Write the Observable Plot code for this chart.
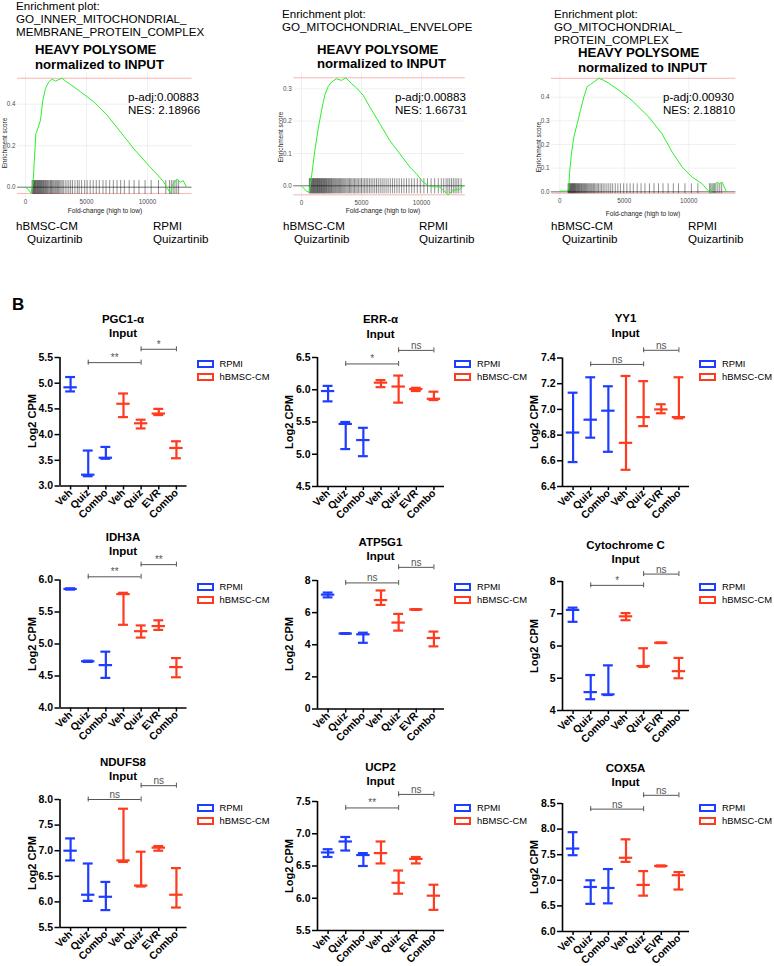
<!DOCTYPE html>
<html><head><meta charset="utf-8">
<script src="https://cdn.jsdelivr.net/npm/d3@7"></script>
<script src="https://cdn.jsdelivr.net/npm/@observablehq/plot@0.6"></script>
<style>
body{margin:0;background:#fff;}
#page{position:relative;width:774px;height:966px;overflow:hidden;font-family:"Liberation Sans",Arial,sans-serif;background:#fff;}
.t{position:absolute;white-space:nowrap;line-height:1;}
#page svg{position:absolute;left:0;top:0;background:transparent;overflow:visible;}
.sw{position:absolute;box-sizing:border-box;width:17px;height:7.5px;border:2.4px solid;}
</style></head><body><div id="page"></div>
<script>
// ================= DATA =================
// --- Panel A: GSEA enrichment plots ---
const gseaSetLines = [
  ["Enrichment plot:", "GO_INNER_MITOCHONDRIAL_", "MEMBRANE_PROTEIN_COMPLEX"],
  ["Enrichment plot:", "GO_MITOCHONDRIAL_ENVELOPE"],
  ["Enrichment plot:", "GO_MITOCHONDRIAL_", "PROTEIN_COMPLEX"]
];
const gseaPadj = ["0.00883", "0.00883", "0.00930"];
const gseaNES = ["2.18966", "1.66731", "2.18810"];
const gseaXTicks = [0, 5000, 10000];
const gseaYTicks = [[0, 0.2, 0.4], [0, 0.1, 0.2, 0.3], [0, 0.1, 0.2, 0.3, 0.4]];

const gseaRank1 = [0,270,465,630,740,850,1010,1230,1420,1640,1910,2190,2460,2730,3005,3280,3690,4510,5600,6690,7790,8880,9970,10790,11340,11890,12100,12430,12700,12920,13200];
const gseaES1 = [0,-0.013,-0.029,0.032,0.145,0.258,0.282,0.323,0.419,0.476,0.508,0.521,0.511,0.519,0.525,0.511,0.495,0.46,0.411,0.347,0.266,0.185,0.113,0.061,0.024,-0.03,0.016,0.04,0.024,0.032,0.0];
const gseaHits1 = [540,600,650,700,740,790,830,880,930,980,1030,1080,1120,1170,1220,1270,1320,1380,1430,1480,1540,1600,1650,1720,1790,1850,1920,2000,2060,2130,2200,2280,2360,2450,2530,2620,2700,2800,2900,3000,3100,3250,3400,3550,3700,3850,4050,4250,4400,4600,4850,5050,5300,5550,5800,6050,6350,6600,6900,7200,7500,7800,8100,8500,8900,9300,9800,10300,10900,11500,11800,11950,12100,12250,12400,12550];

const gseaRank2 = [0,415,640,830,1110,1390,1670,1940,2220,2500,2920,3330,3690,4170,4580,5140,5690,6530,7360,8190,9030,9580,10140,10690,11530,12220,12640,13190,13530];
const gseaES2 = [0,-0.017,-0.02,0.027,0.109,0.176,0.233,0.28,0.307,0.321,0.331,0.326,0.334,0.316,0.303,0.28,0.244,0.192,0.14,0.099,0.058,0.037,0.011,-0.002,-0.004,-0.028,-0.014,-0.01,0.001];
const gseaHits2 = [650,700,760,810,860,900,950,1000,1050,1100,1140,1190,1240,1290,1330,1380,1430,1480,1520,1570,1620,1670,1720,1770,1820,1870,1920,1980,2030,2080,2140,2200,2260,2320,2380,2440,2500,2570,2640,2710,2780,2850,2930,3010,3090,3170,3250,3340,3430,3520,3610,3700,3800,3900,4000,4100,4200,4310,4420,4530,4640,4760,4880,5000,5130,5260,5390,5520,5660,5800,5950,6100,6250,6400,6560,6720,6880,7050,7220,7400,7580,7760,7950,8140,8340,8540,8750,8960,9180,9400,9650,9900,10200,10500,10800,11100,11400,11650,11850,12050,12200,12350,12500,12650,12800,12950,13100,13300];

const gseaRank3 = [0,570,700,750,900,1085,1345,1600,1860,2120,2380,2635,3020,3410,3800,4575,5600,6900,7930,8710,9480,10260,11030,11680,11940,12200,12380,12580,12890];
const gseaES3 = [0.003,0.003,0.013,0.076,0.16,0.23,0.287,0.344,0.40,0.445,0.454,0.464,0.48,0.471,0.459,0.429,0.386,0.316,0.245,0.168,0.105,0.062,0.034,-0.006,0.027,0.041,0.034,0.041,0.003];
const gseaHits3 = [640,690,730,770,810,850,890,930,970,1010,1050,1090,1130,1170,1210,1260,1310,1360,1410,1460,1510,1560,1620,1680,1740,1800,1860,1920,1990,2060,2130,2200,2280,2360,2440,2520,2610,2700,2800,2900,3000,3120,3240,3360,3500,3650,3800,3950,4100,4300,4500,4700,4950,5200,5450,5700,6000,6300,6600,6950,7300,7650,8000,8400,8800,9200,9700,10200,10700,11600,11700,11800,11900,12000,12100,12250,12400,12550];

// --- Panel B: Log2 CPM, median with range ---
const categories = ["Veh", "Quiz", "Combo", "Veh", "Quiz", "EVR", "Combo"];
const condition = ["RPMI", "RPMI", "RPMI", "hBMSC-CM", "hBMSC-CM", "hBMSC-CM", "hBMSC-CM"];
const geneNames = ["PGC1-\u03b1", "ERR-\u03b1", "YY1", "IDH3A", "ATP5G1", "Cytochrome C", "NDUFS8", "UCP2", "COX5A"];

const PGC1A  = {max: [5.12,3.69,3.76,4.80,4.29,4.50,3.87], median: [4.92,3.22,3.55,4.60,4.22,4.41,3.74], min: [4.84,3.19,3.53,4.34,4.12,4.38,3.54]};
const ERRA   = {max: [6.06,5.50,5.41,6.15,6.22,6.03,5.97], median: [5.98,5.47,5.22,6.11,6.05,6.01,5.86], min: [5.82,5.08,4.97,6.04,5.80,5.98,5.84]};
const YY1    = {max: [7.13,7.25,7.18,7.26,7.22,7.04,7.25], median: [6.82,6.92,6.99,6.74,6.94,7.00,6.94], min: [6.59,6.78,6.67,6.53,6.87,6.97,6.93]};
const IDH3A  = {max: [5.87,4.74,4.88,5.80,5.29,5.37,4.78], median: [5.86,4.73,4.67,5.78,5.20,5.28,4.64], min: [5.85,4.72,4.47,5.30,5.10,5.22,4.48]};
const ATP5G1 = {max: [7.25,4.72,4.75,7.38,5.92,6.22,4.82], median: [7.12,4.70,4.65,6.78,5.38,6.20,4.42], min: [6.95,4.68,4.12,6.48,4.88,6.17,3.90]};
const CYCS   = {max: [7.19,5.10,5.40,7.02,5.93,6.11,5.63], median: [7.12,4.57,4.50,6.92,5.38,6.10,5.22], min: [6.75,4.35,4.48,6.80,5.35,6.09,5.00]};
const NDUFS8 = {max: [7.24,6.75,6.39,7.82,6.98,7.09,6.66], median: [7.00,6.14,6.10,6.81,6.32,7.06,6.14], min: [6.81,6.02,5.84,6.78,6.30,7.00,5.89]};
const UCP2   = {max: [6.76,6.95,6.70,6.88,6.43,6.64,6.21], median: [6.71,6.88,6.67,6.70,6.24,6.61,6.04], min: [6.64,6.74,6.50,6.54,6.07,6.54,5.82]};
const COX5A  = {max: [7.94,7.00,7.22,7.80,7.18,7.29,7.16], median: [7.62,6.87,6.85,7.44,6.91,7.28,7.10], min: [7.49,6.54,6.55,7.36,6.70,7.27,6.82]};
const geneValues = [PGC1A, ERRA, YY1, IDH3A, ATP5G1, CYCS, NDUFS8, UCP2, COX5A];

const yDomains = [[3,5.5],[4.5,6.5],[6.4,7.4],[4,6],[0,8],[4,8],[5.5,8],[5.5,7.5],[6,8.5]];
const yTickSteps = [0.5,0.5,0.2,0.5,2,1,0.5,0.5,0.5];
const sigPairs = [[1,4],[4,6]];
const sigLevels = [[5.40,5.66],[6.40,6.61],[7.35,7.46],[6.05,6.24],[7.85,8.82],[7.88,8.23],[8.0,8.27],[7.40,7.61],[8.39,8.66]];
const sigLabels = [["**","*"],["*","ns"],["ns","ns"],["**","**"],["ns","ns"],["*","ns"],["ns","ns"],["**","ns"],["ns","ns"]];

// ================= LAYOUT / STYLE =================
const W = 774, H = 966;
const BLUE = "#1f3dff", RED = "#ff3b1f";
const FONT = "'Liberation Sans', Arial, sans-serif";
const page = document.getElementById("page");

function label(s, x, y, o = {}) {
  const d = document.createElement("div");
  d.className = "t";
  d.textContent = s;
  d.style.left = x + "px"; d.style.top = y + "px";
  d.style.fontSize = (o.size || 11.5) + "px";
  if (o.bold) d.style.fontWeight = "bold";
  if (o.color) d.style.color = o.color;
  const tx = o.anchor === "middle" ? "-50%" : o.anchor === "end" ? "-100%" : "0";
  d.style.transform = `translate(${tx},-50%)` + (o.rotate ? ` rotate(${o.rotate}deg)` : "");
  page.appendChild(d);
}
function add(svg) { page.appendChild(svg); }

// ---- Panel A layout ----
const gseaX0 = [25, 301, 559.3];           // px of rank 0
const gseaKx = [0.0122, 0.012, 0.0129];     // px per rank
const gseaY0 = [186.7, 185.3, 191.3];       // px of ES 0
const gseaKy = [207.5, 323.3, 236.5];       // px per ES unit
const gseaYDom = [[-0.058, 0.553], [-0.046, 0.352], [-0.030, 0.504]];
const gseaBar = [[-0.035, 0.032], [-0.025, 0.022], [-0.008, 0.034]];
const gseaRanks = [gseaRank1, gseaRank2, gseaRank3];
const gseaESs = [gseaES1, gseaES2, gseaES3];
const gseaHits = [gseaHits1, gseaHits2, gseaHits3];
const xDomG = [-650, 13650];

for (let p = 0; p < 3; p++) {
  const fl = gseaX0[p] + xDomG[0] * gseaKx[p], fr = gseaX0[p] + xDomG[1] * gseaKx[p];
  const ft = gseaY0[p] - gseaYDom[p][1] * gseaKy[p], fb = gseaY0[p] - gseaYDom[p][0] * gseaKy[p];
  const curve = gseaRanks[p].map((r, i) => ({r, es: gseaESs[p][i]}));
  const [emin, emax] = d3.extent(gseaESs[p]);
  const [b0, b1] = gseaBar[p];
  add(Plot.plot({
    width: W, height: H,
    marginLeft: fl, marginRight: W - fr, marginTop: ft, marginBottom: H - fb,
    x: {domain: xDomG}, y: {domain: gseaYDom[p]},
    style: {background: "transparent", overflow: "visible", fontFamily: FONT},
    marks: [
      Plot.gridY(gseaYTicks[p], {stroke: "#e6e6e6", strokeOpacity: 1, strokeWidth: 0.6}),
      Plot.gridX(gseaXTicks, {stroke: "#e6e6e6", strokeOpacity: 1, strokeWidth: 0.6}),
      Plot.ruleY([emax, emin], {stroke: "#f5a0a0", strokeWidth: 0.8}),
      Plot.ruleY([0], {stroke: "#222", strokeWidth: 0.6}),
      Plot.ruleX(gseaHits[p], {x: d => d, y1: () => b0, y2: () => b1, stroke: "#000", strokeOpacity: 0.55, strokeWidth: 0.8}),
      Plot.line(curve, {x: "r", y: "es", stroke: "#2bf02b", strokeWidth: 1}),
      Plot.axisY(gseaYTicks[p], {tickSize: 0, tickPadding: 2, tickFormat: d3.format(".1f"), fontSize: 6.3, fill: "#4d4d4d", label: null}),
      Plot.axisX(gseaXTicks, {tickSize: 0, tickPadding: 0, tickFormat: d => String(d), fontSize: 6.3, fill: "#4d4d4d", label: null})
    ]
  }));
}

// Panel A texts
const gSetX = [16, 282, 554], gSetY = [[6, 18.5, 31.5], [13.5, 26.8], [14.3, 27, 39.7]];
const gTitleX = [35, 317, 578], gTitleY = [[50, 65], [50, 64], [53, 68]];
const gStatX = [128, 395, 663], gStatY = [[97, 110], [97, 109.5], [97, 109.5]];
const gYlab = [[4.5, 143], [280.5, 137], [538.5, 147]];
const gXlab = [[105, 210.5], [383, 211], [643, 213.5]];
const gLeft = [[16, 27], [283, 294], [551, 562]], gRight = [153, 419, 688];
for (let p = 0; p < 3; p++) {
  gseaSetLines[p].forEach((s, j) => label(s, gSetX[p], gSetY[p][j], {size: 11.6}));
  label("HEAVY POLYSOME", gTitleX[p], gTitleY[p][0], {size: 13.2, bold: true});
  label("normalized to INPUT", gTitleX[p], gTitleY[p][1], {size: 13.2, bold: true});
  label("p-adj:" + gseaPadj[p], gStatX[p], gStatY[p][0], {size: 11.6});
  label("NES: " + gseaNES[p], gStatX[p], gStatY[p][1], {size: 11.6});
  label("Enrichment score", gYlab[p][0], gYlab[p][1], {size: 6.5, anchor: "middle", rotate: -90, color: "#222"});
  label("Fold-change (high to low)", gXlab[p][0], gXlab[p][1], {size: 6.6, anchor: "middle", color: "#222"});
  label("hBMSC-CM", gLeft[p][0], 226, {size: 11.6});
  label("Quizartinib", gLeft[p][1], 238.5, {size: 11.6});
  label("RPMI", gRight[p], 226, {size: 11.6});
  label("Quizartinib", gRight[p], 238.5, {size: 11.6});
}

label("B", 12, 304, {size: 17, bold: true});

// ---- Panel B layout ----
const colAxisX = [59.5, 317, 562];
const frameW = 127;
const frameTB = [[357,485.5],[357,486],[357.5,486],[579.5,707.5],[580,708.5],[581,710],[799,927],[801,930],[803,931]];
const titleY = [[319.5,333.5],[320,335],[319,334],[538,552],[543,557],[546,560],[763,777],[768,782],[769,783]];
const legendY = [[364,377],[587,600],[808,821]];
const xDomB = [-0.6, 6.6];

for (let k = 0; k < 9; k++) {
  const v = geneValues[k];
  const rows = categories.map((c, i) => ({i, cond: condition[i], max: v.max[i], med: v.median[i], min: v.min[i]}));
  const ax = colAxisX[k % 3];
  const [top, bottom] = frameTB[k];
  const [y0, y1] = yDomains[k];
  const step = yTickSteps[k];
  const ticks = d3.range(0, Math.round((y1 - y0) / step) + 1).map(j => +(y0 + j * step).toFixed(2));
  const fmt = step < 1 ? d3.format(".1f") : d3.format("d");
  const pxU = (y1 - y0) / (bottom - top);
  const br = sigPairs.map(([a, b], j) => ({a, b, level: sigLevels[k][j], label: sigLabels[k][j]}));
  add(Plot.plot({
    width: W, height: H,
    marginLeft: ax, marginRight: W - (ax + frameW), marginTop: top, marginBottom: H - bottom,
    x: {domain: xDomB}, y: {domain: [y0, y1]},
    color: {domain: ["RPMI", "hBMSC-CM"], range: [BLUE, RED]},
    style: {background: "transparent", overflow: "visible", fontFamily: FONT},
    marks: [
      Plot.ruleX([xDomB[0]], {stroke: "#000", strokeWidth: 1.6}),
      Plot.ruleY([y0], {stroke: "#000", strokeWidth: 1.6}),
      Plot.axisY(ticks, {tickSize: 5, tickPadding: 2, tickFormat: fmt, fontSize: 10.5, fontWeight: "bold", fill: "#000", strokeWidth: 1.5, label: null}),
      Plot.axisX(d3.range(categories.length), {tickSize: 4, tickPadding: 1, tickRotate: -45, tickFormat: i => categories[i], fontSize: 10.5, fontWeight: "bold", fill: "#000", strokeWidth: 1.5, label: null}),
      Plot.ruleX(rows, {x: "i", y1: "min", y2: "max", stroke: "cond", strokeWidth: 2.2}),
      Plot.ruleY(rows, {y: "max", x1: d => d.i - 0.28, x2: d => d.i + 0.28, stroke: "cond", strokeWidth: 2.2}),
      Plot.ruleY(rows, {y: "min", x1: d => d.i - 0.28, x2: d => d.i + 0.28, stroke: "cond", strokeWidth: 2.2}),
      Plot.ruleY(rows, {y: "med", x1: d => d.i - 0.38, x2: d => d.i + 0.38, stroke: "cond", strokeWidth: 2.2}),
      Plot.ruleY(br, {y: "level", x1: "a", x2: "b", stroke: "#555", strokeWidth: 1}),
      Plot.ruleX(br, {x: "a", y1: d => d.level - 2.5 * pxU, y2: d => d.level + 2.5 * pxU, stroke: "#555", strokeWidth: 1}),
      Plot.ruleX(br, {x: "b", y1: d => d.level - 2.5 * pxU, y2: d => d.level + 2.5 * pxU, stroke: "#555", strokeWidth: 1}),
      Plot.text(br, {x: d => (d.a + d.b) / 2, y: "level", text: "label", lineAnchor: "bottom", dy: -1.5, fontSize: 10, fill: "#555", fontWeight: "normal"})
    ]
  }));
  // titles, y label, legend
  const cx = ax + frameW / 2;
  label(geneNames[k], cx, titleY[k][0], {size: 11.5, bold: true, anchor: "middle"});
  label("Input", cx, titleY[k][1], {size: 11.5, bold: true, anchor: "middle"});
  label("Log2 CPM", ax - 28, (top + bottom) / 2, {size: 11, bold: true, anchor: "middle", rotate: -90});
  const ly = legendY[Math.floor(k / 3)];
  ["RPMI", "hBMSC-CM"].forEach((c, j) => {
    const sw = document.createElement("div");
    sw.className = "sw";
    sw.style.left = (ax + 137) + "px";
    sw.style.top = (ly[j] - 3.75) + "px";
    sw.style.borderColor = j === 0 ? BLUE : RED;
    page.appendChild(sw);
    label(c, ax + 160, ly[j], {size: 9.4});
  });
}
</script></body></html>
